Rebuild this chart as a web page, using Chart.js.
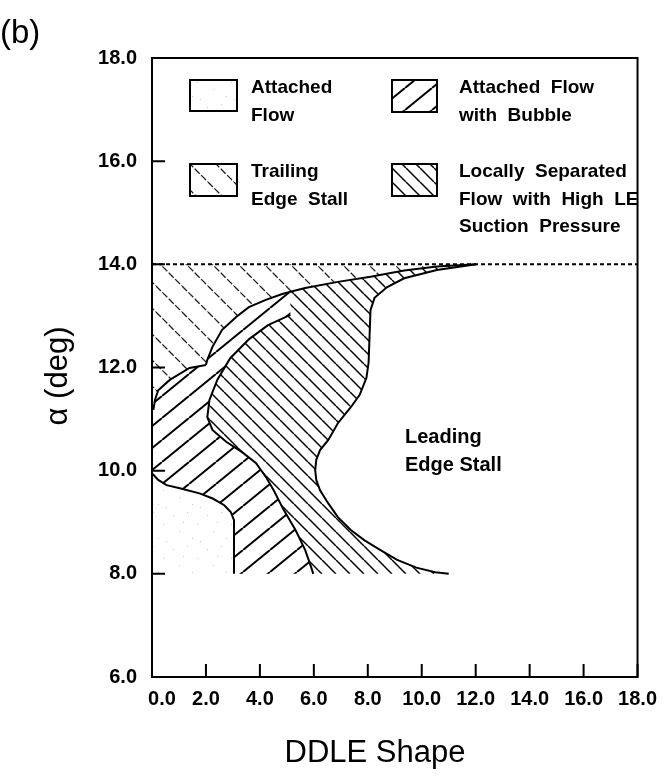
<!DOCTYPE html>
<html><head><meta charset="utf-8">
<script src="https://cdn.jsdelivr.net/npm/chart.js@4.4.1/dist/chart.umd.min.js"></script>
<style>html,body{margin:0;padding:0;background:#fff;}canvas{display:block;}</style>
</head><body>
<canvas id="c" width="667" height="778"></canvas>
<script>
// ---- data ----
const xTickValues = [0, 2, 4, 6, 8, 10, 12, 14, 16, 18];
const yTickValues = [6, 8, 10, 12, 14, 16, 18];
const xTitle = 'DDLE Shape';
const yTitle = 'α (deg)';
const panelLabel = '(b)';
const leLabel = ['Leading', 'Edge Stall'];
const legendLabels = [['Attached', 'Flow'], ['Attached  Flow', 'with  Bubble'], ['Trailing', 'Edge  Stall'], ['Locally  Separated', 'Flow  with  High  LE', 'Suction  Pressure']];
const stallLimitLine = [[0, 14.0], [18, 14.0]];
// attached flow / bubble boundary (from left axis down to y=8)
const attachedEdge = [[0.0, 9.95], [0.23, 9.82], [0.54, 9.72], [1.03, 9.66], [1.76, 9.56], [2.25, 9.46], [2.68, 9.33], [2.92, 9.2], [3.04, 9.04], [3.04, 8.0]];
// bubble top-left edge (left axis up to the cusp at 2.0)
const bubbleTopEdge = [[0.05, 11.18], [0.11, 11.37], [0.23, 11.56], [0.66, 11.76], [1.39, 11.99], [2.0, 12.05]];
// trailing edge stall lower boundary (cusp up to the 14 deg line)
const trailingEdge = [[2.0, 12.05], [2.05, 12.15], [2.24, 12.4], [2.6, 12.73], [3.12, 12.98], [3.59, 13.17], [4.22, 13.31], [4.8, 13.42], [5.13, 13.47], [5.68, 13.54], [6.89, 13.66], [8.1, 13.76], [9.35, 13.88], [10.56, 13.96], [12.02, 14.0]];
// bubble / locally separated boundary (bottom up to its open end)
const separatedEdge = [[5.98, 8.0], [5.9, 8.13], [5.68, 8.46], [5.32, 8.85], [4.88, 9.24], [4.51, 9.62], [4.22, 9.88], [3.85, 10.15], [3.34, 10.36], [2.75, 10.56], [2.24, 10.79], [2.05, 11.04], [2.13, 11.37], [2.42, 11.76], [2.9, 12.18], [3.6, 12.55], [4.3, 12.82], [5.13, 13.02]];
// leading edge stall boundary
const leadingEdge = [[12.02, 14.0], [10.56, 13.89], [9.35, 13.73], [8.72, 13.56], [8.25, 13.35], [8.1, 13.11], [8.06, 12.53], [8.03, 12.1], [7.95, 11.8], [7.7, 11.47], [7.37, 11.23], [6.89, 10.92], [6.53, 10.59], [6.23, 10.4], [6.09, 10.21], [6.05, 10.01], [6.09, 9.82], [6.23, 9.62], [6.53, 9.37], [6.89, 9.1], [7.37, 8.85], [7.88, 8.65], [8.47, 8.46], [9.09, 8.27], [9.8, 8.12], [10.5, 8.03], [11.0, 8.0]];
const lowestAlpha = 8.0;

// ---- region polygons built from the boundaries ----
const rev = a => a.slice().reverse();
const junction = trailingEdge.findIndex(p => p[0] === separatedEdge[separatedEdge.length - 1][0]);
const attachedRegion = [[0, lowestAlpha], ...attachedEdge, [0, lowestAlpha]];
const bubbleRegion = [...rev(attachedEdge), ...bubbleTopEdge, ...trailingEdge.slice(1, junction + 1), ...rev(separatedEdge), [3.04, lowestAlpha]];
const trailingRegion = [stallLimitLine[0], [trailingEdge[trailingEdge.length - 1][0], 14.0], ...rev(trailingEdge), ...rev(bubbleTopEdge), [0, bubbleTopEdge[0][1]], stallLimitLine[0]];
const separatedRegion = [...separatedEdge, ...trailingEdge.slice(junction), ...leadingEdge.slice(1), separatedEdge[0]];

// ---- hatch patterns ----
function hatch(w, h, dir, lw, color, dash) {
  const t = document.createElement('canvas'); t.width = w; t.height = h;
  const g = t.getContext('2d');
  g.strokeStyle = color; g.lineWidth = lw; g.lineCap = 'butt';
  if (dash) g.setLineDash(dash);
  for (let k = -1; k <= 1; k++) {
    g.beginPath();
    if (dir === '/') { g.moveTo(k * w, h); g.lineTo(k * w + w, 0); }
    else { g.moveTo(k * w, 0); g.lineTo(k * w + w, h); }
    g.stroke();
  }
  return g.createPattern(t, 'repeat');
}
function stipple() {
  const t = document.createElement('canvas'); t.width = 34; t.height = 34;
  const g = t.getContext('2d'); g.fillStyle = '#c8c8c8';
  [[3, 5], [17, 2], [27, 14], [9, 21], [22, 28], [13, 12], [30, 31]].forEach(p => g.fillRect(p[0], p[1], 1, 1));
  return g.createPattern(t, 'repeat');
}
const patAttached = stipple();
const patBubble = hatch(27, 22, '/', 2, '#000');
const patTrailing = hatch(26, 26, '\\', 1.3, '#222', [7, 2]);
const patSeparated = hatch(14, 14, '\\', 1.5, '#000');

const pts = a => a.map(p => ({x: p[0], y: p[1]}));
const region = (d, pat) => ({data: pts(d), fill: 'shape', backgroundColor: pat, borderWidth: 0, borderColor: 'rgba(0,0,0,0)', pointRadius: 0, tension: 0, order: 10});
const edge = (d, extra) => Object.assign({data: pts(d), fill: false, borderColor: '#000', borderWidth: 2, pointRadius: 0, tension: 0, order: 0}, extra || {});

const FONT = '"Liberation Sans", Arial, Helvetica, sans-serif';

const decor = {
  id: 'decor',
  afterDraw(chart) {
    const {ctx, chartArea: a, scales: {x, y}} = chart;
    ctx.save();
    ctx.strokeStyle = '#000'; ctx.lineWidth = 2;
    ctx.strokeRect(a.left, a.top, a.right - a.left, a.bottom - a.top);
    ctx.beginPath();
    xTickValues.forEach(v => { const px = x.getPixelForValue(v); ctx.moveTo(px, a.bottom); ctx.lineTo(px, a.bottom - 13); });
    yTickValues.forEach(v => { const py = y.getPixelForValue(v); ctx.moveTo(a.left, py); ctx.lineTo(a.left + 13, py); });
    ctx.stroke();
    // legend
    const boxes = [
      [190, 80, 47, 31, patAttached],
      [392, 80, 45, 32, patBubble],
      [190, 164, 47, 32, patTrailing],
      [392, 164, 45, 32, patSeparated]
    ];
    ctx.font = 'bold 19px ' + FONT; ctx.textBaseline = 'middle'; ctx.textAlign = 'left';
    boxes.forEach(([bx, by, bw, bh, pat], k) => {
      ctx.fillStyle = pat; ctx.fillRect(bx, by, bw, bh);
      ctx.lineWidth = 2; ctx.strokeRect(bx, by, bw, bh);
      ctx.fillStyle = '#000';
      legendLabels[k].forEach((s, i) => ctx.fillText(s, bx + (bx < 300 ? 61 : 67), by + 8 + i * 27.5));
    });
    ctx.font = 'bold 20px ' + FONT;
    ctx.fillText(leLabel[0], 405, 437);
    ctx.fillText(leLabel[1], 405, 465);
    // titles
    ctx.font = '31px ' + FONT; ctx.textAlign = 'center';
    ctx.fillText(xTitle, 375, 753);
    ctx.save(); ctx.translate(58, 376); ctx.rotate(-Math.PI / 2); ctx.fillText(yTitle, 0, 0); ctx.restore();
    ctx.font = '33px ' + FONT; ctx.textAlign = 'left';
    ctx.fillText(panelLabel, 0, 34);
    ctx.restore();
  }
};

new Chart(document.getElementById('c'), {
  type: 'line',
  data: {
    datasets: [
      region(attachedRegion, patAttached),
      region(trailingRegion, patTrailing),
      region(bubbleRegion, patBubble),
      region(separatedRegion, patSeparated),
      edge(attachedEdge),
      edge(bubbleTopEdge),
      edge(trailingEdge),
      edge(separatedEdge),
      edge(leadingEdge),
      edge(stallLimitLine, {borderDash: [4, 3], borderWidth: 2})
    ]
  },
  options: {
    responsive: false, animation: false, devicePixelRatio: 1,
    layout: {padding: {left: 0, right: 24, top: 58, bottom: 0}},
    plugins: {legend: {display: false}, tooltip: {enabled: false}},
    scales: {
      x: {
        type: 'linear', min: 0, max: 18, position: 'bottom',
        afterBuildTicks: s => { s.ticks = xTickValues.map(v => ({value: v})); },
        afterFit: s => { s.height = 101; },
        grid: {display: false, drawTicks: false}, border: {display: false},
        ticks: {autoSkip: false, maxRotation: 0, padding: 10, color: '#000', font: {family: FONT, size: 20, weight: 'bold'},
          callback: v => (v === 0 ? '\u2002\u2002' : '') + v.toFixed(1)},
        title: {display: false}
      },
      y: {
        type: 'linear', min: 6, max: 18,
        afterBuildTicks: s => { s.ticks = yTickValues.map(v => ({value: v})); },
        afterFit: s => { s.width = 152; },
        grid: {display: false, drawTicks: false}, border: {display: false},
        ticks: {autoSkip: false, padding: 15, color: '#000', font: {family: FONT, size: 20, weight: 'bold'}, callback: v => v.toFixed(1)},
        title: {display: false}
      }
    }
  },
  plugins: [decor]
});
</script>
</body></html>
